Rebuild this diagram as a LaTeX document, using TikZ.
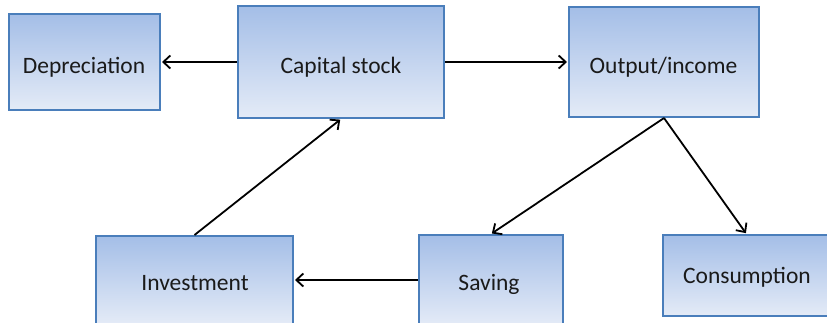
\documentclass[tikz,border=0pt]{standalone}
\usepackage{fontspec}
\setmainfont{Carlito}
\usetikzlibrary{arrows.meta}
\definecolor{boxborder}{HTML}{4A7EBB}
\definecolor{boxtop}{HTML}{A4BEE7}
\definecolor{boxbottom}{HTML}{E4EBF7}
\definecolor{txt}{HTML}{1A1A1A}
\tikzset{
  box/.style={draw=boxborder, line width=2pt, top color=boxtop, bottom color=boxbottom, inner sep=0pt},
  lbl/.style={anchor=base, inner sep=0pt, text=txt, font=\fontsize{23.5}{28}\selectfont},
  arr/.style={line width=1.8pt, -{Straight Barb[length=7pt, width=13pt, line width=1.8pt]}, shorten >=1pt}
}
\begin{document}
\begin{tikzpicture}[x=1pt, y=-1pt]
\useasboundingbox (0,0) rectangle (827,322);
\clip (0,0) rectangle (827,322);
\fill[white] (0,0) rectangle (827,322);
\node[box, minimum width=151pt, minimum height=96pt] (dep) at (84.5,62) {};
\node[box, minimum width=206pt, minimum height=112pt] (cap) at (341,62) {};
\node[box, minimum width=190pt, minimum height=110pt] (out) at (664,62) {};
\node[box, minimum width=197pt, minimum height=88pt] (inv) at (194.5,280) {};
\node[box, minimum width=144pt, minimum height=90pt] (sav) at (491,280) {};
\node[box, minimum width=167pt, minimum height=81pt] (con) at (746.5,275.5) {};
\node[lbl] (tdep) at (84,73) {Depreciation};
\node[lbl] (tcap) at (341,73) {Capital stock};
\node[lbl] (tout) at (663.5,73) {Output/income};
\node[lbl] (tinv) at (195,290) {Investment};
\node[lbl] (tsav) at (489,290) {Saving};
\node[lbl] (tcon) at (747,283) {Consumption};
\draw[arr] (cap.west) -- (dep.east);
\draw[arr] (cap.east) -- (out.west);
\draw[arr] (out.south) -- (sav.north);
\draw[arr] (out.south) -- (con.north);
\draw[arr] (sav.west) -- (inv.east);
\draw[arr] (inv.north) -- (cap.south);
\end{tikzpicture}
\end{document}
